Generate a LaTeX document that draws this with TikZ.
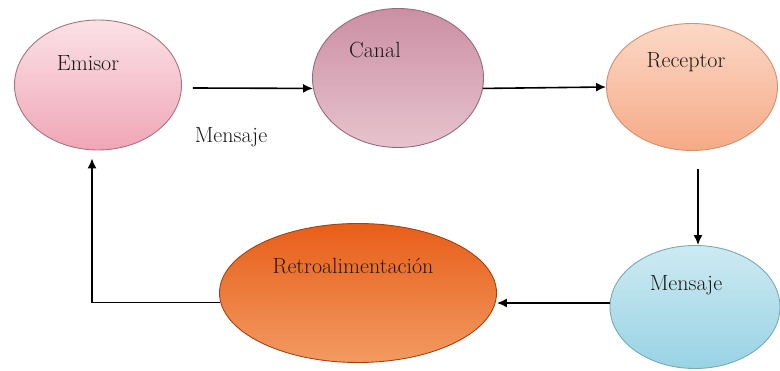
\documentclass[tikz,border=0pt]{standalone}
\usetikzlibrary{shapes.geometric,arrows.meta}

\definecolor{emisorA}{HTML}{FBE1E7}
\definecolor{emisorB}{HTML}{F0A6B6}
\definecolor{canalA}{HTML}{E7C3CE}
\definecolor{canalB}{HTML}{CB8FA3}
\definecolor{recepA}{HTML}{FCD8C6}
\definecolor{recepB}{HTML}{F5AA86}
\definecolor{mensA}{HTML}{CDEAF2}
\definecolor{mensB}{HTML}{98D3E4}
\definecolor{retroA}{HTML}{E85E18}
\definecolor{retroB}{HTML}{F29A62}

\begin{document}
\begin{tikzpicture}[x=1pt,y=-1pt,
  bubble/.style={shape=ellipse,inner sep=0pt,line width=0.9pt},
  arr/.style={line width=1.6pt,-{Latex[length=10pt,width=9pt]}},
  txt/.style={font=\fontsize{22}{26}\selectfont,text=black!90}]
\useasboundingbox (0,0) rectangle (780,371);
\node[bubble,draw=emisorB!70!black,top color=emisorA,bottom color=emisorB,minimum width=167pt,minimum height=130pt,label={[txt,xshift=-10pt,yshift=22pt]center:Emisor}] (Emisor) at (98,85) {};
\node[bubble,draw=canalB!75!black,top color=canalB,bottom color=canalA,minimum width=171pt,minimum height=139pt,label={[txt,xshift=-23pt,yshift=28pt]center:Canal}] (Canal) at (398,78) {};
\node[bubble,draw=recepB!85!black,top color=recepA,bottom color=recepB,minimum width=171pt,minimum height=127pt,label={[txt,xshift=-6pt,yshift=25pt]center:Receptor}] (Receptor) at (692,87) {};
\node[bubble,draw=mensB!80!black,top color=mensA,bottom color=mensB,minimum width=170pt,minimum height=123pt,label={[txt,xshift=-9pt,yshift=22pt]center:Mensaje}] (Mensaje) at (695,307) {};
\node[bubble,draw=retroA!70!black,top color=retroA,bottom color=retroB,minimum width=277pt,minimum height=139pt,label={[txt,text=black!80!brown,xshift=-5pt,yshift=27pt]center:Retroalimentación}] (Retro) at (358,293) {};
\node[txt] (MsgLabel) at (231,137) {Mensaje};
\path [arr] ([xshift=11pt,yshift=-3pt]Emisor.east) edge (Canal.187);
\path [arr] (Canal.-7) edge (Receptor.west);
\path [arr] ([xshift=6pt,yshift=-18pt]Receptor.south) edge ([xshift=3pt]Mensaje.north);
\path [arr] ([yshift=4pt]Mensaje.west) edge ([yshift=4pt]Mensaje.west -| Retro.east);
\draw [arr] (Retro.184) -| ([xshift=-6pt,yshift=-8pt]Emisor.south);
\end{tikzpicture}
\end{document}
